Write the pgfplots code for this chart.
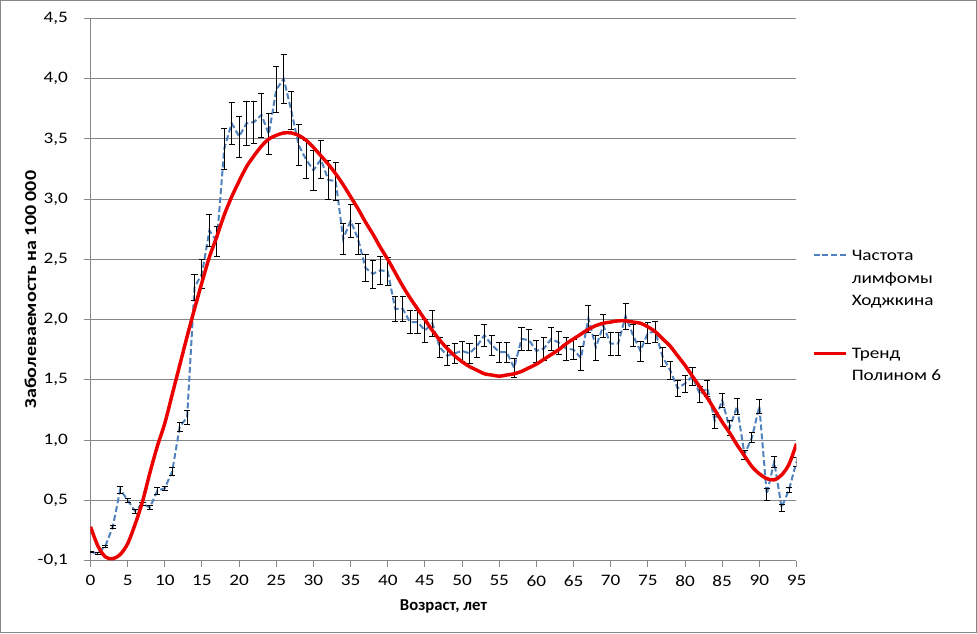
\documentclass[border=0pt]{standalone}
\usepackage{pgfplots}
\usepackage{pgfplotstable}
\pgfplotsset{compat=1.18}
\usepackage{fontspec}
\setmainfont{Carlito}
\newfontfamily\widefont{Carlito}[FakeStretch=1.2]
\newfontfamily\plainfont{Carlito}
\definecolor{gridgray}{RGB}{134,134,134}
\definecolor{serblue}{RGB}{79,129,189}
\definecolor{trendred}{RGB}{235,0,0}

\pgfplotstableread{
x y e
0 0.07 0.005
1 0.06 0.005
2 0.12 0.01
3 0.28 0.015
4 0.59 0.03
5 0.50 0.014
6 0.41 0.017
7 0.47 0.012
8 0.44 0.018
9 0.58 0.03
10 0.60 0.02
11 0.74 0.035
12 1.11 0.04
13 1.19 0.055
14 2.27 0.11
15 2.38 0.12
16 2.74 0.135
17 2.65 0.127
18 3.42 0.17
19 3.63 0.175
20 3.52 0.17
21 3.63 0.18
22 3.64 0.177
23 3.70 0.183
24 3.54 0.17
25 3.91 0.19
26 4.00 0.20
27 3.74 0.156
28 3.45 0.17
29 3.33 0.16
30 3.24 0.163
31 3.33 0.16
32 3.16 0.16
33 3.15 0.156
34 2.67 0.127
35 2.82 0.138
36 2.67 0.127
37 2.43 0.115
38 2.38 0.116
39 2.41 0.115
40 2.40 0.115
41 2.09 0.10
42 2.09 0.10
43 1.98 0.097
44 1.98 0.094
45 1.91 0.097
46 1.97 0.107
47 1.77 0.086
48 1.70 0.083
49 1.72 0.083
50 1.74 0.083
51 1.72 0.083
52 1.78 0.09
53 1.87 0.09
54 1.79 0.083
55 1.73 0.08
56 1.73 0.08
57 1.60 0.076
58 1.84 0.097
59 1.83 0.086
60 1.74 0.09
61 1.76 0.094
62 1.84 0.097
63 1.81 0.097
64 1.76 0.094
65 1.75 0.083
66 1.68 0.10
67 2.01 0.113
68 1.77 0.104
69 1.95 0.093
70 1.80 0.093
71 1.80 0.093
72 2.03 0.107
73 1.87 0.09
74 1.74 0.083
75 1.89 0.09
76 1.90 0.087
77 1.69 0.08
78 1.58 0.073
79 1.43 0.066
80 1.47 0.07
81 1.53 0.072
82 1.38 0.066
83 1.43 0.07
84 1.16 0.058
85 1.33 0.061
86 1.10 0.062
87 1.28 0.065
88 0.88 0.036
89 1.02 0.042
90 1.28 0.058
91 0.55 0.046
92 0.82 0.048
93 0.44 0.028
94 0.59 0.021
95 0.82 0.035
}\freq

\pgfplotstableread{
x y
0 0.28
1 0.12
2 0.03
3 0.015
4 0.05
5 0.14
6 0.30
7 0.49
8 0.73
9 0.95
10 1.14
11 1.38
12 1.62
13 1.86
14 2.09
15 2.31
16 2.52
17 2.69
18 2.87
19 3.02
20 3.15
21 3.27
22 3.36
23 3.44
24 3.50
25 3.53
26 3.55
27 3.55
28 3.53
29 3.49
30 3.43
31 3.36
32 3.29
33 3.21
34 3.12
35 3.02
36 2.92
37 2.81
38 2.71
39 2.60
40 2.50
41 2.39
42 2.28
43 2.18
44 2.09
45 2.00
46 1.91
47 1.83
48 1.76
49 1.70
50 1.65
51 1.61
52 1.58
53 1.55
54 1.54
55 1.53
56 1.54
57 1.55
58 1.57
59 1.60
60 1.63
61 1.67
62 1.71
63 1.75
64 1.80
65 1.84
66 1.88
67 1.92
68 1.95
69 1.97
70 1.98
71 1.99
72 1.99
73 1.98
74 1.97
75 1.94
76 1.90
77 1.84
78 1.78
79 1.70
80 1.62
81 1.53
82 1.44
83 1.35
84 1.25
85 1.15
86 1.06
87 0.96
88 0.87
89 0.78
90 0.72
91 0.68
92 0.67
93 0.71
94 0.80
95 0.97
}\trend

\begin{document}
\begin{tikzpicture}[font=\widefont\fontsize{12}{14}\selectfont]
\begin{axis}[
  name=ax,
  scale only axis,
  width=529.5pt, height=406.5pt,
  xmin=0, xmax=95, ymin=0, ymax=4.5,
  xtick={0,5,...,95},
  ytick={0,0.5,1,1.5,2,2.5,3,3.5,4,4.5},
  yticklabels={{-0,1},{0,5},{1,0},{1,5},{2,0},{2,5},{3,0},{3,5},{4,0},{4,5}},
  /pgf/number format/assume math mode=true,
  axis x line*=bottom, axis y line*=left,
  axis line style={gridgray, line width=0.75pt},
  ymajorgrids,
  major grid style={gridgray, line width=0.75pt},
  tick style={gridgray, line width=0.75pt},
  tick align=outside,
  major tick length=4.5pt,
  yticklabel style={xshift=-9pt},
  xticklabel style={yshift=-3pt},
  xlabel={\plainfont\fontsize{12.5}{15}\selectfont\bfseries Возраст, лет},
  ylabel={\widefont\fontsize{12.5}{15}\selectfont\bfseries Заболеваемость на 100 000},
  xlabel style={at={(axis description cs:0.5,-0.085)}, anchor=center},
  ylabel style={at={(axis description cs:-0.085,0.5)}, anchor=center},
]
\addplot[serblue, line width=1.5pt, dash pattern=on 4.5pt off 2.2pt, mark=none,
  error bars/.cd, y dir=both, y explicit,
  error bar style={black, solid, line width=0.75pt, mark size=2.3pt}]
  table[x=x, y=y, y error=e]{\freq};
\addplot[trendred, line width=2.6pt, smooth, mark=none] table[x=x, y=y]{\trend};
\end{axis}
% legend
\draw[serblue, line width=1.5pt, dash pattern=on 4.5pt off 2.2pt]
  ([xshift=542.25pt, yshift=229.5pt]ax.south west) -- ++(24pt,0);
\node[anchor=base west, inner sep=0pt] at ([xshift=570.75pt,yshift=225pt]ax.south west) {Частота};
\node[anchor=base west, inner sep=0pt] at ([xshift=570.75pt,yshift=207.75pt]ax.south west) {лимфомы};
\node[anchor=base west, inner sep=0pt] at ([xshift=570.75pt,yshift=191.25pt]ax.south west) {Ходжкина};
\draw[trendred, line width=2.6pt]
  ([xshift=542.25pt, yshift=155.25pt]ax.south west) -- ++(24pt,0);
\node[anchor=base west, inner sep=0pt] at ([xshift=570.75pt,yshift=151.5pt]ax.south west) {Тренд};
\node[anchor=base west, inner sep=0pt] at ([xshift=570.75pt,yshift=135pt]ax.south west) {Полином 6};
% outer frame
\draw[gridgray, line width=0.75pt] ([xshift=-67.5pt,yshift=-54pt]ax.south west) rectangle ([xshift=664.5pt, yshift=420pt]ax.south west);
\end{tikzpicture}
\end{document}
